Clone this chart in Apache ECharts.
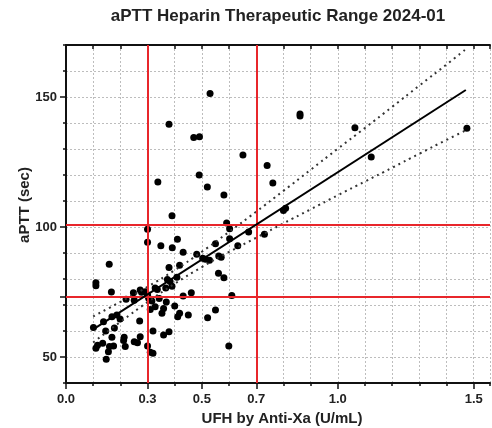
<!DOCTYPE html>
<html>
<head>
<meta charset="utf-8">
<script src="https://cdn.jsdelivr.net/npm/echarts@6/dist/echarts.min.js"></script>
<style>html,body{margin:0;padding:0;background:#fff}#c{width:492px;height:428px}</style>
</head>
<body>
<div id="c"></div>
<script>
// ---- data ----
const titleText = 'aPTT Heparin Therapeutic Range 2024-01';
const xAxisTitle = 'UFH by Anti-Xa (U/mL)';
const yAxisTitle = 'aPTT (sec)';
const xTickLabels = [0, 0.3, 0.5, 0.7, 1.0, 1.5];
const yTickLabels = [50, 100, 150];
const yMajorTicks = [50, 73, 100, 150];
const targetX = [0.3, 0.7];
const targetY = [73, 101];

const pointsX = [
  0.530,0.379,0.470,0.491,0.651,0.740,0.761,0.338,0.490,0.520,0.581,0.390,0.861,0.861,1.063,1.123,1.475,0.800,0.808,0.730,
  0.300,0.300,0.349,0.410,0.391,0.431,0.481,0.503,0.513,0.528,0.562,0.571,0.550,0.591,0.602,0.602,0.632,0.672,
  0.159,0.379,0.418,0.561,0.581,0.373,0.383,0.408,
  0.110,0.110,0.167,0.221,0.251,0.248,0.273,0.278,0.292,0.300,0.304,0.316,0.328,0.367,0.390,0.431,0.461,0.610,0.343,0.336,
  0.310,0.328,0.359,0.400,0.411,0.418,0.450,0.521,0.550,0.271,0.101,0.138,0.146,0.169,0.178,0.187,0.199,0.353,0.369,
  0.599,0.320,0.359,0.379,0.300,0.310,0.320,0.273,0.251,0.263,0.214,0.212,0.218,0.175,0.169,0.160,0.156,0.148,0.135,0.116,0.110
];
const pointsY = [
  151.3,139.5,134.4,134.7,127.7,123.7,116.9,117.3,120.0,115.4,112.3,104.3,143.5,142.7,138.2,126.9,138.0,106.3,107.2,97.2,
  99.1,94.1,92.8,95.3,92.0,90.3,89.5,88.0,87.6,87.2,88.8,88.4,93.6,101.5,99.3,95.5,92.8,98.1,
  85.7,84.4,85.3,82.2,80.5,79.8,79.0,80.7,
  78.6,77.4,75.0,72.2,71.8,74.7,75.8,74.9,75.1,73.9,72.6,71.5,76.5,76.5,77.2,73.5,74.7,73.7,72.5,76.0,
  68.3,69.3,68.7,69.6,65.5,66.8,66.2,65.1,68.1,63.8,61.3,63.6,60.0,65.5,61.2,66.2,64.6,66.8,71.2,
  54.2,60.0,58.5,59.7,54.2,51.8,51.4,57.8,55.9,55.5,57.6,56.3,54.0,54.2,57.6,54.0,52.0,49.1,55.3,54.5,53.4
];

const fitX = [0.097, 1.471];
const fitY = [60.4, 152.7];

const bandX     = [0.10, 0.20, 0.30, 0.40, 0.50, 0.60, 0.70, 0.80, 0.90, 1.00, 1.10, 1.20, 1.30, 1.40, 1.475];
const bandUpper = [65.6, 71.2, 77.0, 83.4, 90.5, 98.1, 105.9, 113.9, 122.0, 130.1, 138.1, 146.2, 154.4, 162.5, 168.7];
const bandLower = [55.6, 63.5, 71.1, 78.2, 84.6, 90.4, 95.9, 101.4, 106.8, 112.2, 117.5, 122.8, 128.2, 133.5, 137.4];

// ---- chart ----
const pair = (xs, ys) => xs.map((x, i) => [x, ys[i]]);
const FONT = "'Liberation Sans', Arial, sans-serif";
const XMIN = 0, XMAX = 1.56, YMIN = 40, YMAX = 170;
const gridStyle = { show: true, lineStyle: { color: '#bdbdbd', type: [2, 2], width: 1 } };
const lbl = { fontFamily: FONT, fontWeight: 'bold', fontSize: 13, color: '#222' };

const chart = echarts.init(document.getElementById('c'), null, { renderer: 'canvas' });
chart.setOption({
  animation: false,
  backgroundColor: '#fff',
  grid: { left: 66, right: 2, top: 45, bottom: 45, containLabel: false },
  xAxis: [
    { type: 'value', position: 'bottom', min: XMIN, max: XMAX, interval: 0.1,
      axisLine: { show: true, onZero: false, lineStyle: { color: '#111', width: 2 } },
      axisTick: { show: true, length: 6, lineStyle: { color: '#111', width: 1.5 }, customValues: xTickLabels },
      axisLabel: Object.assign({ show: true, margin: 10, customValues: xTickLabels,
        formatter: v => (Math.round(v * 10) / 10).toFixed(1) }, lbl),
      splitLine: { show: false } },
    { type: 'value', position: 'bottom', min: XMIN, max: XMAX, interval: 0.1,
      axisLine: { show: false, onZero: false },
      axisTick: { show: true, length: 3, lineStyle: { color: '#111', width: 1.5 } },
      axisLabel: { show: false },
      splitLine: gridStyle },
    { type: 'value', position: 'top', min: XMIN, max: XMAX, interval: 0.1,
      axisLine: { show: true, onZero: false, lineStyle: { color: '#111', width: 2 } },
      axisTick: { show: true, inside: true, length: 4, lineStyle: { color: '#111', width: 1.5 } },
      axisLabel: { show: false },
      splitLine: { show: false } }
  ],
  yAxis: [
    { type: 'value', position: 'left', min: YMIN, max: YMAX, interval: 10,
      axisLine: { show: true, onZero: false, lineStyle: { color: '#111', width: 2 } },
      axisTick: { show: true, length: 6, lineStyle: { color: '#111', width: 1.5 }, customValues: yMajorTicks },
      axisLabel: Object.assign({ show: true, margin: 9, customValues: yTickLabels }, lbl),
      splitLine: { show: false } },
    { type: 'value', position: 'left', min: YMIN, max: YMAX, interval: 10,
      axisLine: { show: false, onZero: false },
      axisTick: { show: true, length: 3, lineStyle: { color: '#111', width: 1.5 } },
      axisLabel: { show: false },
      splitLine: gridStyle }
  ],
  graphic: [
    { type: 'text', x: 278, y: 16, style: { text: titleText, font: "bold 17px 'Liberation Sans', Arial, sans-serif", fill: '#222', align: 'center', verticalAlign: 'middle' } },
    { type: 'text', x: 282, y: 419, style: { text: xAxisTitle, font: "bold 15px 'Liberation Sans', Arial, sans-serif", fill: '#222', align: 'center', verticalAlign: 'middle' } },
    { type: 'text', x: 25, y: 205, rotation: Math.PI / 2, style: { text: yAxisTitle, font: "bold 15px 'Liberation Sans', Arial, sans-serif", fill: '#222', align: 'center', verticalAlign: 'middle' } }
  ],
  series: [
    { type: 'line', xAxisIndex: 0, yAxisIndex: 0, data: [], silent: true, z: 1,
      markLine: { silent: true, symbol: 'none', label: { show: false },
        lineStyle: { color: '#e8262b', type: 'solid', width: 2 },
        data: targetX.map(v => ({ xAxis: v })).concat(targetY.map(v => ({ yAxis: v }))) } },
    { type: 'scatter', xAxisIndex: 0, yAxisIndex: 0, data: pair(pointsX, pointsY), symbol: 'circle', symbolSize: 7,
      itemStyle: { color: '#000', opacity: 1 }, z: 3 },
    { type: 'line', xAxisIndex: 0, yAxisIndex: 0, data: pair(bandX, bandUpper), smooth: true, showSymbol: false,
      lineStyle: { color: '#333', width: 2, type: [2, 4] }, z: 4 },
    { type: 'line', xAxisIndex: 0, yAxisIndex: 0, data: pair(bandX, bandLower), smooth: true, showSymbol: false,
      lineStyle: { color: '#333', width: 2, type: [2, 4] }, z: 4 },
    { type: 'line', xAxisIndex: 0, yAxisIndex: 0, data: pair(fitX, fitY), showSymbol: false,
      lineStyle: { color: '#000', width: 2 }, z: 5 }
  ]
});
</script>
</body>
</html>
